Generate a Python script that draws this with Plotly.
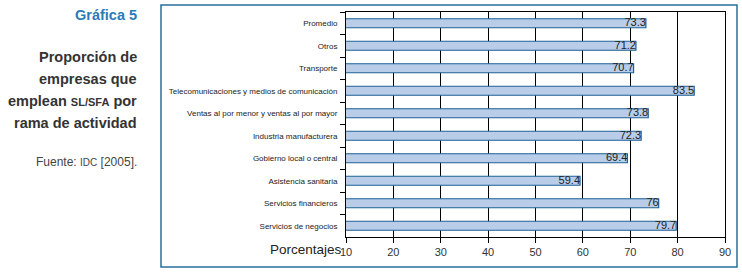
import plotly.graph_objects as go

categories = [
    "Promedio",
    "Otros",
    "Transporte",
    "Telecomunicaciones y medios de comunicación",
    "Ventas al por menor y ventas al por mayor",
    "Industria manufacturera",
    "Gobierno local o central",
    "Asistencia sanitaria",
    "Servicios financieros",
    "Servicios de negocios",
]
values = [73.3, 71.2, 70.7, 83.5, 73.8, 72.3, 69.4, 59.4, 76, 79.7]
value_labels = ["73.3", "71.2", "70.7", "83.5", "73.8", "72.3", "69.4", "59.4", "76", "79.7"]
x_ticks = [10, 20, 30, 40, 50, 60, 70, 80, 90]

W, H = 742, 273
L, R, T, B = 346, 725, 12, 237

def px(x):
    return (x - L) / (R - L)

def py(y):
    return (B - y) / (B - T)

fig = go.Figure()
fig.add_trace(go.Bar(
    y=categories,
    x=values,
    base=0,
    orientation="h",
    marker=dict(color="#b9cde8", line=dict(color="#1f5f96", width=1.2)),
    width=0.4,
    hoverinfo="x+y",
))
fig.add_trace(go.Scatter(
    y=categories,
    x=values,
    mode="text",
    text=value_labels,
    textposition="middle left",
    textfont=dict(family="Liberation Sans, Arial, sans-serif", size=11, color="#222222"),
    cliponaxis=False,
    hoverinfo="skip",
))

fig.update_layout(
    width=W, height=H,
    margin=dict(l=L, r=W - R, t=T, b=H - B, autoexpand=False),
    paper_bgcolor="white",
    plot_bgcolor="white",
    showlegend=False,
    font=dict(family="Liberation Sans, Arial, sans-serif", color="#222222"),
)

fig.update_xaxes(
    range=[10, 90],
    tickvals=x_ticks,
    ticktext=[str(v) for v in x_ticks],
    showgrid=True, gridcolor="black", gridwidth=1,
    showline=True, linecolor="black", linewidth=1, mirror=True,
    ticks="outside", ticklen=5, tickcolor="black",
    tickfont=dict(size=11, color="#333333"),
    zeroline=False,
    fixedrange=True,
    automargin=False,
)
fig.update_yaxes(
    categoryorder="array", categoryarray=categories,
    autorange="reversed",
    showgrid=False,
    showline=True, linecolor="black", linewidth=1, mirror=True,
    ticks="outside", ticklen=5, tickcolor="black", tickson="boundaries",
    tickfont=dict(size=8, color="#222222"),
    ticklabelstandoff=6,
    automargin=False,
    fixedrange=True,
)

# outer blue frame
fig.add_shape(type="rect", xref="paper", yref="paper",
              x0=px(161), x1=px(737), y0=py(267), y1=py(5),
              line=dict(color="#2a6f9a", width=1.5), fillcolor="rgba(0,0,0,0)", layer="below")

# axis title
fig.add_annotation(text="Porcentajes", xref="paper", yref="paper",
                   x=px(344), y=py(250), xanchor="right", yanchor="middle",
                   showarrow=False, font=dict(size=13.5, color="#222222"))

# left text panel
fig.add_annotation(text="<b>Gráfica 5</b>", xref="paper", yref="paper",
                   x=px(139), y=py(15), xanchor="right", yanchor="middle",
                   showarrow=False, font=dict(size=14.5, color="#2b7bb9"))
title_lines = ["Proporción de", "empresas que", "emplean <span style='font-size:11px'>SL/SFA</span> por", "rama de actividad"]
for i, line in enumerate(title_lines):
    fig.add_annotation(text="<b>" + line + "</b>", xref="paper", yref="paper",
                       x=px(139), y=py(57 + 22 * i), xanchor="right", yanchor="middle",
                       showarrow=False, font=dict(size=14.5, color="#333333"))
fig.add_annotation(text="Fuente: <span style='font-size:10px'>IDC</span> [2005].", xref="paper", yref="paper",
                   x=px(139), y=py(162), xanchor="right", yanchor="middle",
                   showarrow=False, font=dict(size=12, color="#444444"))

fig.write_html("out.html", config={"displayModeBar": False},
               post_script="document.body.style.margin='0';document.body.style.overflow='hidden';")
